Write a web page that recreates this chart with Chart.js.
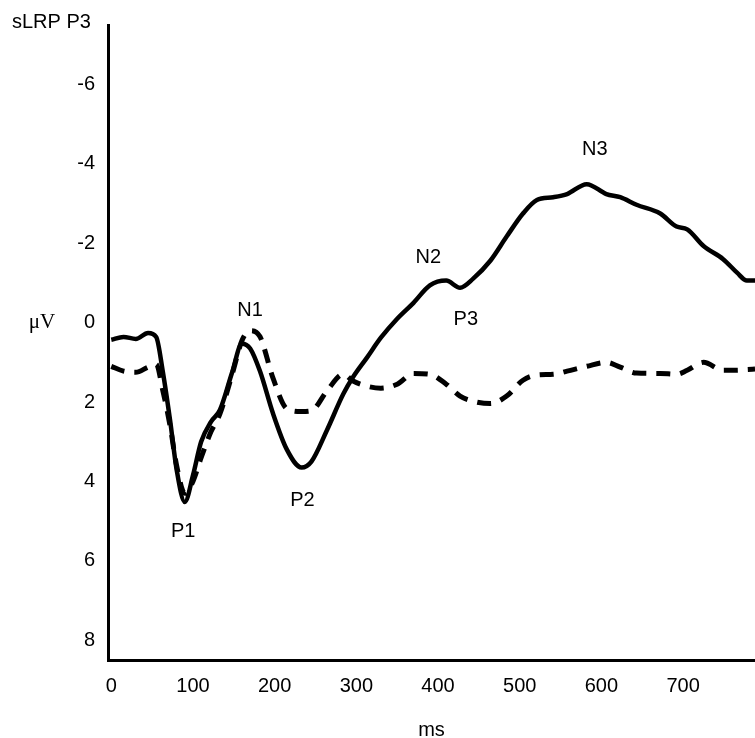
<!DOCTYPE html>
<html>
<head>
<meta charset="utf-8">
<script src="https://cdn.jsdelivr.net/npm/chart.js@4.4.0/dist/chart.umd.min.js"></script>
<style>
  body { margin: 0; background: #fff; }
  #wrap { width: 755px; height: 738px; }
</style>
</head>
<body>
<div id="wrap"><canvas id="myChart" width="755" height="738"></canvas></div>
<script>
// time points (ms)
const timesMs = [0, 15, 30, 45, 55, 63, 72, 80, 90, 100, 110, 122, 133, 148, 160, 170, 182, 198, 215, 233,
  245, 264, 284, 296, 313, 330, 350, 370, 390, 410, 427, 443, 464, 484, 504, 521, 541, 558, 582, 606,
  623, 643, 672, 692, 705, 725, 749, 766, 778, 788];

// solid trace (µV)
const solidTrace = [0.43, 0.36, 0.41, 0.26, 0.36, 1.22, 2.46, 3.7, 4.52, 3.85, 3.0, 2.5, 2.2, 1.25, 0.53, 0.65, 1.22, 2.29, 3.2, 3.65,
  3.5, 2.71, 1.8, 1.37, 0.88, 0.38, -0.1, -0.5, -0.94, -1.06, -0.88, -1.11, -1.56, -2.17, -2.75, -3.09, -3.16, -3.24, -3.49, -3.24,
  -3.16, -2.97, -2.75, -2.42, -2.35, -1.93, -1.6, -1.26, -1.06, -1.06];

// dashed trace (µV)
const dashedTrace = [1.1, 1.22, 1.25, 1.12, 1.05, 1.7, 2.6, 3.6, 4.3, 4.0, 3.4, 2.75, 2.3, 1.3, 0.45, 0.2, 0.35, 1.4, 2.17, 2.24,
  2.22, 1.72, 1.3, 1.47, 1.6, 1.65, 1.55, 1.28, 1.3, 1.55, 1.85, 1.98, 2.04, 1.85, 1.45, 1.32, 1.3, 1.22, 1.1, 1.0,
  1.12, 1.27, 1.28, 1.3, 1.2, 1.0, 1.2, 1.2, 1.18, 1.17];

const xTicks = [0, 100, 200, 300, 400, 500, 600, 700];
const yTicks = [-6, -4, -2, 0, 2, 4, 6, 8];

// component labels: text, ms, µV
const peakNames = ["P1", "N1", "P2", "N2", "P3", "N3"];
const peakMs = [88, 170, 234, 388, 434, 592];
const peakUv = [5.27, -0.3, 4.47, -1.63, -0.09, -4.36];

const FONT = "'Liberation Sans', Arial, sans-serif";

const textPlugin = {
  id: "texts",
  afterDatasetsDraw(chart) {
    const { ctx, scales } = chart;
    ctx.save();
    ctx.fillStyle = "#000";
    ctx.font = "20px " + FONT;
    ctx.textAlign = "center";
    ctx.textBaseline = "middle";
    peakNames.forEach((name, i) => {
      ctx.fillText(name, scales.x.getPixelForValue(peakMs[i]), scales.y.getPixelForValue(peakUv[i]));
    });
    ctx.textAlign = "left";
    ctx.fillText("sLRP P3", 12, 22);
    ctx.textAlign = "center";
    ctx.font = "21px 'Liberation Serif', 'Times New Roman', serif";
    ctx.fillText("μV", 42, scales.y.getPixelForValue(0));
    ctx.restore();
  },
};

const ctx = document.getElementById("myChart").getContext("2d");

new Chart(ctx, {
  type: "line",
  data: {
    labels: timesMs,
    datasets: [
      {
        data: timesMs.map((t, i) => ({ x: t, y: dashedTrace[i] })),
        borderColor: "#000",
        borderWidth: 5,
        borderDash: [14, 10],
        pointRadius: 0,
        cubicInterpolationMode: "monotone",
        fill: false,
      },
      {
        data: timesMs.map((t, i) => ({ x: t, y: solidTrace[i] })),
        borderColor: "#000",
        borderWidth: 4.5,
        pointRadius: 0,
        cubicInterpolationMode: "monotone",
        fill: false,
      },
    ],
  },
  options: {
    responsive: false,
    animation: false,
    layout: { padding: { top: 15, right: 0, bottom: 0, left: 0 } },
    plugins: {
      legend: { display: false },
      tooltip: { enabled: false },
    },
    scales: {
      x: {
        type: "linear",
        min: -4,
        max: 788,
        afterFit: (s) => { s.height = 78; },
        afterBuildTicks: (s) => { s.ticks = xTicks.map((v) => ({ value: v })); },
        grid: { display: false, drawTicks: false },
        border: { display: true, color: "#000", width: 3 },
        ticks: {
          padding: 14,
          color: "#000",
          maxRotation: 0,
          autoSkip: false,
          font: { family: FONT, size: 20 },
        },
        title: {
          display: true,
          text: "ms",
          color: "#000",
          padding: { top: 0, bottom: -4 },
          font: { family: FONT, size: 20 },
        },
      },
      y: {
        reverse: true,
        min: -7.5,
        max: 8.5,
        afterFit: (s) => { s.width = 108; },
        afterBuildTicks: (s) => { s.ticks = yTicks.map((v) => ({ value: v })); },
        grid: { display: false, drawTicks: false },
        border: { display: true, color: "#000", width: 3 },
        ticks: {
          padding: 13,
          color: "#000",
          font: { family: FONT, size: 20 },
        },
      },
    },
  },
  plugins: [textPlugin],
});
</script>
</body>
</html>
